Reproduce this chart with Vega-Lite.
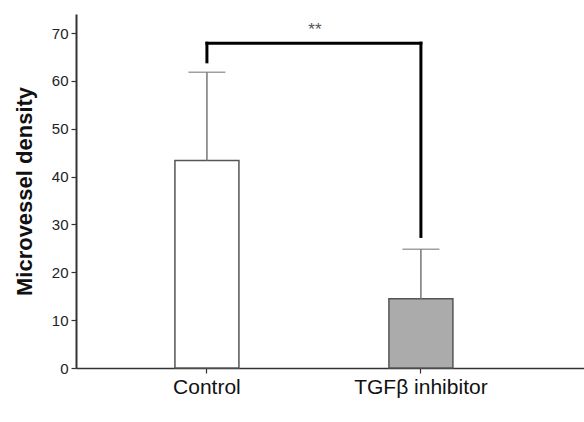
{
  "$schema": "https://vega.github.io/schema/vega-lite/v6.json",
  "width": 508,
  "height": 354,
  "autosize": "none",
  "padding": {"left": 76, "top": 14, "right": 0, "bottom": 54},
  "background": "white",
  "config": {
    "font": "Liberation Sans",
    "view": {"stroke": null}
  },
  "datasets": {
    "bars": [
      {"group": "Control", "mean": 43.4, "upper": 61.8},
      {"group": "TGFβ inhibitor", "mean": 14.5, "upper": 24.8}
    ],
    "bracket": [
      {"from": "Control", "to": "TGFβ inhibitor", "y": 67.9, "y2": 67.9},
      {"from": "Control", "to": "Control", "y": 67.9, "y2": 64.0},
      {"from": "TGFβ inhibitor", "to": "TGFβ inhibitor", "y": 67.9, "y2": 27.5}
    ],
    "sig": [
      {"group": "Control", "y": 70.6, "label": "**"}
    ]
  },
  "encoding": {
    "x": {
      "field": "group",
      "type": "nominal",
      "sort": ["Control", "TGFβ inhibitor"],
      "scale": {"type": "band", "domain": ["Control", "TGFβ inhibitor"], "paddingInner": 0.5, "paddingOuter": 0.437, "align": 0.414},
      "axis": {
        "title": null,
        "labelAngle": 0,
        "labelFontSize": 21,
        "labelColor": "#111",
        "labelPadding": 3,
        "tickSize": 5,
        "tickColor": "#333",
        "tickWidth": 1.2,
        "domainColor": "#333",
        "domainWidth": 1.6,
        "grid": false
      }
    }
  },
  "layer": [
    {
      "data": {"name": "bars"},
      "mark": {"type": "bar", "width": 64, "stroke": "#555", "strokeWidth": 1.5},
      "encoding": {
        "y": {
          "field": "mean",
          "type": "quantitative",
          "scale": {"domain": [0, 74], "nice": false},
          "axis": {
            "title": "Microvessel density",
            "titleFontSize": 22,
            "titleFontWeight": "bold",
            "titleColor": "#111",
            "titlePadding": 15,
            "values": [0, 10, 20, 30, 40, 50, 60, 70],
            "labelFontSize": 15,
            "labelColor": "#222",
            "labelPadding": 3,
            "tickSize": 5,
            "tickColor": "#333",
            "tickWidth": 1.2,
            "domainColor": "#333",
            "domainWidth": 2,
            "grid": false
          }
        },
        "fill": {
          "field": "group",
          "type": "nominal",
          "scale": {"domain": ["Control", "TGFβ inhibitor"], "range": ["#ffffff", "#ababab"]},
          "legend": null
        }
      }
    },
    {
      "data": {"name": "bars"},
      "mark": {"type": "rule", "color": "#777", "strokeWidth": 1.5},
      "encoding": {
        "y": {"field": "mean", "type": "quantitative"},
        "y2": {"field": "upper"}
      }
    },
    {
      "data": {"name": "bars"},
      "mark": {"type": "tick", "color": "#777", "size": 37, "thickness": 1.5, "orient": "horizontal"},
      "encoding": {
        "y": {"field": "upper", "type": "quantitative"}
      }
    },
    {
      "data": {"name": "bracket"},
      "mark": {"type": "rule", "color": "#000", "strokeWidth": 3, "strokeCap": "square"},
      "encoding": {
        "x": {"field": "from", "type": "nominal"},
        "x2": {"field": "to"},
        "y": {"field": "y", "type": "quantitative"},
        "y2": {"field": "y2"}
      }
    },
    {
      "data": {"name": "sig"},
      "mark": {"type": "text", "fontSize": 17, "color": "#555", "dx": 108, "baseline": "middle"},
      "encoding": {
        "y": {"field": "y", "type": "quantitative"},
        "text": {"field": "label"}
      }
    }
  ]
}
